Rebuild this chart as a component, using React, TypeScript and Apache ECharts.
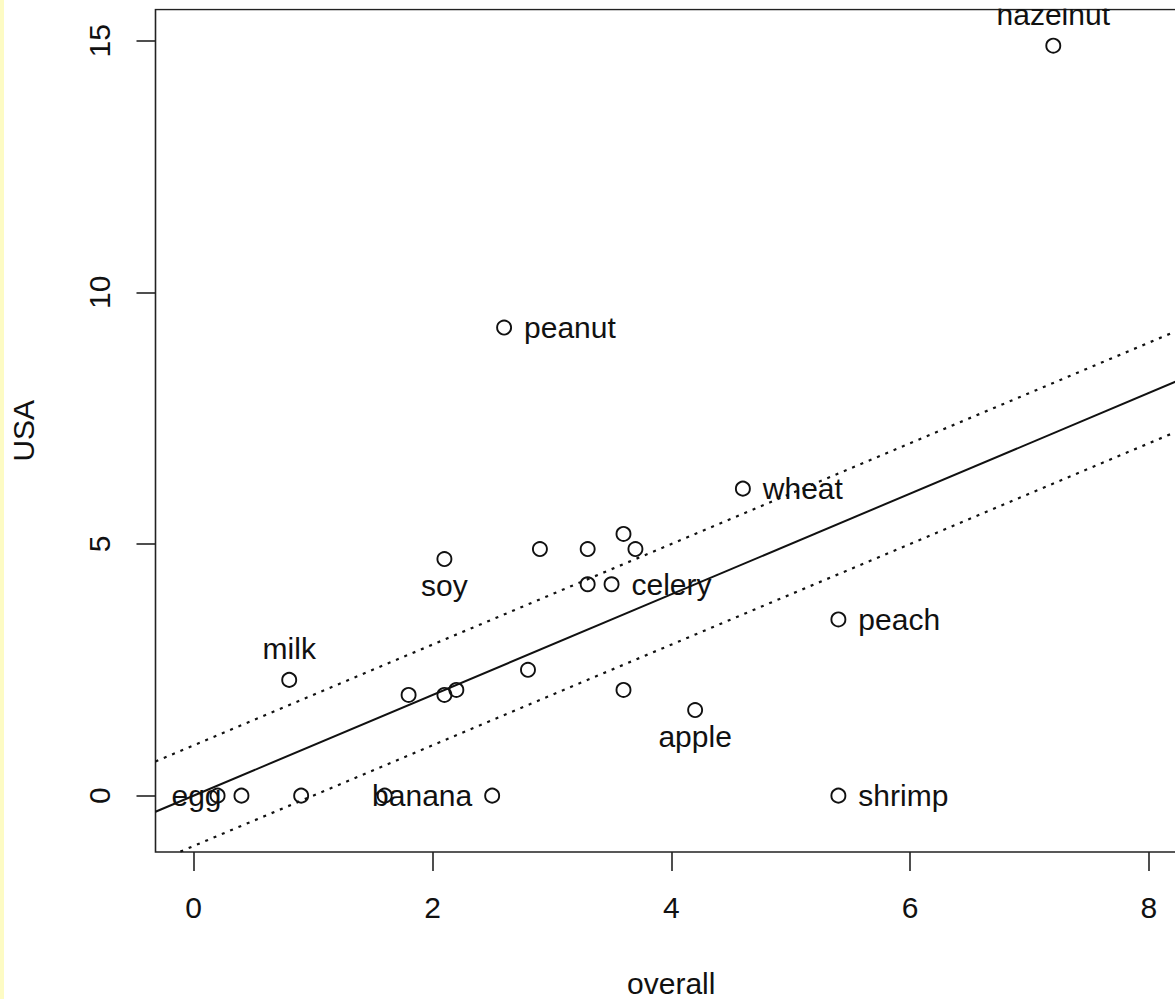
import React, { useEffect, useRef } from "react";
import * as echarts from "echarts";

// ---- data ----
const overall = [0.2, 0.4, 0.9, 1.6, 2.5, 5.4, 0.8, 1.8, 2.1, 2.2, 2.8, 3.6, 4.2, 2.1, 2.9, 3.3, 3.6, 3.7, 3.3, 3.5, 4.6, 5.4, 2.6, 7.2];
const usa = [0, 0, 0, 0, 0, 0, 2.3, 2.0, 2.0, 2.1, 2.5, 2.1, 1.7, 4.7, 4.9, 4.9, 5.2, 4.9, 4.2, 4.2, 6.1, 3.5, 9.3, 14.9];
const pointLabels = ["", "egg", "", "", "banana", "shrimp", "milk", "", "", "", "", "", "apple", "soy", "", "", "", "", "", "celery", "wheat", "peach", "peanut", "hazelnut"];
const labelSides = ["", "left", "", "", "left", "right", "top", "", "", "", "", "", "bottom", "bottom", "", "", "", "", "", "right", "right", "right", "right", "top"];

const xTicks = [0, 2, 4, 6, 8];
const yTicks = [0, 5, 10, 15];
const xRange = [-0.32, 8.32];
const yRange = [-1.12, 15.62];

// reference lines: USA = intercept + slope * overall
const lineIntercepts = [0, 1, -1];
const lineSlope = 1;
const lineDotted = [false, true, true];

const FONT = "'Liberation Sans', Arial, Helvetica, sans-serif";
const INK = "#111111";

export default function App() {
  const ref = useRef<HTMLDivElement>(null);

  useEffect(() => {
    if (!ref.current) return;
    const chart = echarts.init(ref.current, null, { renderer: "svg" });

    const distFor = (side: string) =>
      side === "left" || side === "right" ? 12 : side === "top" ? 8 : 3;

    const scatterData = overall.map((x, i) => {
      const item: any = { value: [x, usa[i]] };
      if (pointLabels[i]) {
        item.label = {
          show: true,
          formatter: pointLabels[i],
          position: labelSides[i],
          distance: distFor(labelSides[i]),
        };
      }
      return item;
    });

    const lineSeries = lineIntercepts.map((a, i) => ({
      type: "line",
      data: [
        [xRange[0], a + lineSlope * xRange[0]],
        [xRange[1], a + lineSlope * xRange[1]],
      ],
      showSymbol: false,
      symbol: "none",
      clip: true,
      silent: true,
      z: 1,
      lineStyle: {
        color: INK,
        opacity: 1,
        width: lineDotted[i] ? 2.2 : 2,
        type: lineDotted[i] ? [3, 6] : "solid",
      },
    }));

    chart.setOption({
      animation: false,
      backgroundColor: "#ffffff",
      textStyle: { fontFamily: FONT },
      grid: {
        left: 155.5,
        top: 9.5,
        width: 1031.5,
        height: 842.5,
        show: true,
        borderColor: "#222222",
        borderWidth: 1.6,
        backgroundColor: "transparent",
        containLabel: false,
        outerBoundsMode: "none",
      },
      xAxis: {
        type: "value",
        min: xRange[0],
        max: xRange[1],
        axisLine: { show: false, onZero: false },
        splitLine: { show: false },
        axisTick: {
          show: true,
          length: 19,
          customValues: xTicks,
          lineStyle: { color: "#222222", width: 1.6 },
        },
        axisLabel: {
          customValues: xTicks,
          fontSize: 30,
          color: INK,
          fontFamily: FONT,
          margin: 40,
        },
        name: "overall",
        nameLocation: "middle",
        nameGap: 116,
        nameTextStyle: { fontSize: 30, color: INK, fontFamily: FONT },
      },
      yAxis: {
        type: "value",
        min: yRange[0],
        max: yRange[1],
        axisLine: { show: false, onZero: false },
        splitLine: { show: false },
        axisTick: {
          show: true,
          length: 19,
          customValues: yTicks,
          lineStyle: { color: "#222222", width: 1.6 },
        },
        axisLabel: {
          customValues: yTicks,
          rotate: 90,
          fontSize: 30,
          color: INK,
          fontFamily: FONT,
          margin: 41,
        },
        name: "USA",
        nameLocation: "middle",
        nameRotate: 90,
        nameGap: 117,
        nameTextStyle: { fontSize: 30, color: INK, fontFamily: FONT },
      },
      graphic: [
        {
          type: "rect",
          shape: { x: 0, y: 0, width: 4, height: 999 },
          style: { fill: "#fdfbc4" },
          z: 0,
        },
        {
          type: "rect",
          shape: { x: 4, y: 0, width: 1171, height: 8.6 },
          style: { fill: "#ffffff" },
          z: 100,
        },
      ],
      series: [
        ...lineSeries,
        {
          type: "scatter",
          symbol: "circle",
          symbolSize: 14,
          z: 3,
          itemStyle: { color: "transparent", borderColor: INK, borderWidth: 1.9, opacity: 1 },
          label: {
            show: false,
            fontSize: 30,
            color: INK,
            opacity: 1,
            fontFamily: FONT,
          },
          emphasis: { disabled: true },
          data: scatterData,
        },
      ],
    } as any);

    return () => chart.dispose();
  }, []);

  return (
    <div
      ref={ref}
      style={{ position: "absolute", left: 0, top: 0, width: 1175, height: 999 }}
    />
  );
}
